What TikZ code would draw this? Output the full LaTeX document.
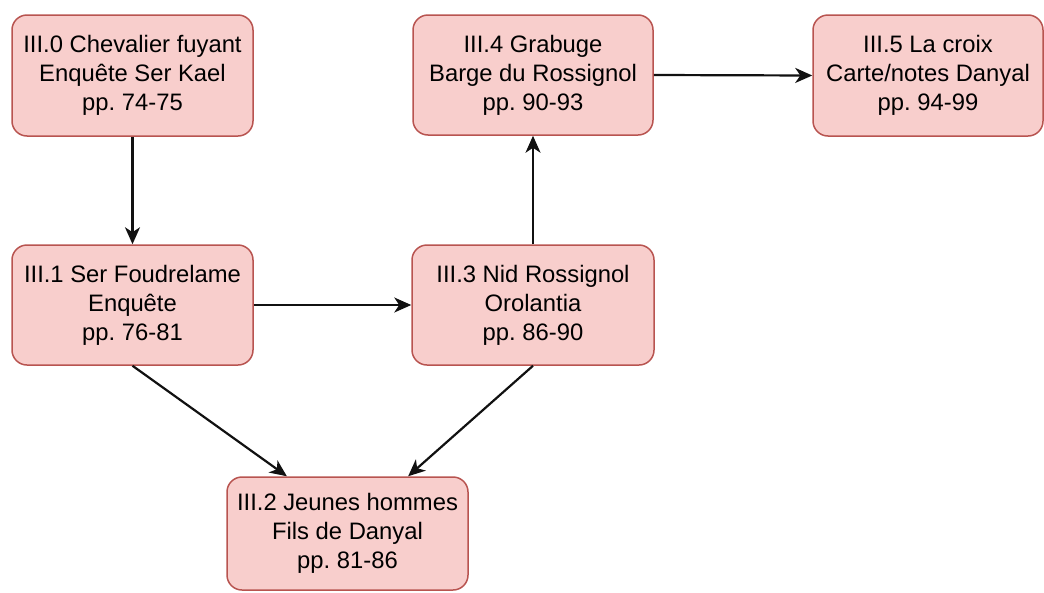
\documentclass[tikz,border=0pt]{standalone}
\usepackage{fontspec}
\setmainfont{Liberation Sans}
\frenchspacing
\usetikzlibrary{arrows.meta,calc}
\definecolor{boxfill}{HTML}{F8CECC}
\definecolor{boxline}{HTML}{B85450}
\definecolor{inkline}{HTML}{111111}
\tikzset{
  scene/.style={
    draw=boxline, fill=boxfill, line width=1.5pt, rounded corners=15pt,
    align=center, inner sep=0pt, font=\fontsize{23.8}{29}\selectfont,
    text=black
  },
  flow/.style={
    draw=inkline, line width=2.2pt,
    -{Stealth[length=17pt,width=15pt,inset=5pt]}
  }
}
\begin{document}
\begin{tikzpicture}[x=1pt,y=-1pt]
  \useasboundingbox (0,0) rectangle (1044,592);

  \node[scene, minimum width=241pt, minimum height=121pt] (s0) at (132.5,75.5)
    {III.0 Chevalier fuyant\\Enquête Ser Kael\\pp. 74-75};
  \node[scene, minimum width=240pt, minimum height=120pt] (s4) at (533,75)
    {III.4 Grabuge\\Barge du Rossignol\\pp. 90-93};
  \node[scene, minimum width=230pt, minimum height=121pt] (s5) at (928,75.5)
    {III.5 La croix\\Carte/notes Danyal\\pp. 94-99};
  \node[scene, minimum width=241pt, minimum height=120pt] (s1) at (132.5,305)
    {III.1 Ser Foudrelame\\Enquête\\pp. 76-81};
  \node[scene, minimum width=242pt, minimum height=120pt] (s3) at (533,305)
    {III.3 Nid Rossignol\\Orolantia\\pp. 86-90};
  \node[scene, minimum width=241pt, minimum height=113pt] (s2) at (347.5,533.5)
    {III.2 Jeunes hommes\\Fils de Danyal\\pp. 81-86};

  \coordinate (s2a) at ($(s2.north west)!0.25!(s2.north east)$);
  \coordinate (s2b) at ($(s2.north west)!0.75!(s2.north east)$);

  \draw[flow] (s0.south) -- (s1.north);
  \draw[flow] (s1.east) -- (s3.west);
  \draw[flow] (s3.north) -- (s4.south);
  \draw[flow] (s4.east) -- (s5.west);
  \draw[flow] (s1.south) -- (s2a);
  \draw[flow] (s3.south) -- (s2b);
\end{tikzpicture}
\end{document}
